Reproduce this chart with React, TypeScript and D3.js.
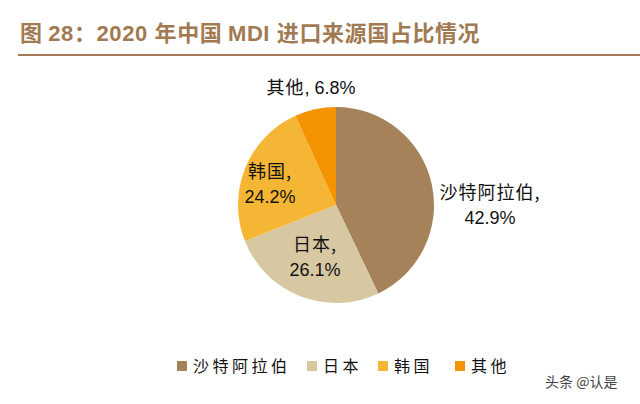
import React, { useEffect, useRef } from 'react';
import * as d3 from 'd3';

const categories = ['沙特阿拉伯', '日本', '韩国', '其他'];
const shares = [42.9, 26.1, 24.2, 6.8];
const colors = ['#A6825B', '#D7C8A1', '#F4B634', '#F39300'];

const W = 640;
const H = 404;
const CJK = '"Noto Sans CJK SC", "Liberation Sans", sans-serif';
const NUM = '"Liberation Sans", Arial, sans-serif';

const App: React.FC = () => {
  const svgRef = useRef<SVGSVGElement>(null);

  useEffect(() => {
    if (!svgRef.current) return;
    const svg = d3.select(svgRef.current);
    svg.selectAll('*').remove();

    // title
    const title = svg.append('text')
      .attr('x', 20).attr('y', 41)
      .attr('fill', '#A27A52')
      .attr('font-weight', 'bold')
      .attr('font-size', 22)
      .attr('letter-spacing', 0.6);
    title.append('tspan').attr('font-family', CJK).text('图 ');
    title.append('tspan').attr('font-family', NUM).text('28');
    title.append('tspan').attr('font-family', CJK).text('：');
    title.append('tspan').attr('font-family', NUM).text('2020 ');
    title.append('tspan').attr('font-family', CJK).text('年中国 ');
    title.append('tspan').attr('font-family', NUM).text('MDI ');
    title.append('tspan').attr('font-family', CJK).text('进口来源国占比情况');

    svg.append('line')
      .attr('x1', 18).attr('x2', W).attr('y1', 55).attr('y2', 55)
      .attr('stroke', '#A27A55').attr('stroke-width', 2);

    // pie
    const cx = 336, cy = 205, r = 98;
    const pie = d3.pie<number>().sort(null).value(d => d);
    const arcs = pie(shares);
    const arc = d3.arc<d3.PieArcDatum<number>>().innerRadius(0).outerRadius(r);
    const g = svg.append('g').attr('transform', `translate(${cx},${cy})`);
    g.selectAll('path').data(arcs).enter().append('path')
      .attr('d', arc)
      .attr('fill', (_, i) => colors[i]);

    // label anchors relative to pie centre
    const labelPos: [number, number][] = [
      [154, 0],
      [-21, 52],
      [-66, -21],
      [-25, -117],
    ];
    arcs.forEach((_, i) => {
      const [dx, dy] = labelPos[i];
      const pct = `${shares[i].toFixed(1)}%`;
      if (i === 3) {
        const t = g.append('text').attr('x', dx).attr('y', dy + 6)
          .attr('text-anchor', 'middle').attr('font-size', 18).attr('fill', '#111');
        t.append('tspan').attr('font-family', CJK).attr('letter-spacing', 1).text(categories[i]);
        t.append('tspan').attr('font-family', NUM).text(`, ${pct}`);
        return;
      }
      const t = g.append('text').attr('text-anchor', 'middle').attr('font-size', 18).attr('fill', '#111');
      t.append('tspan').attr('x', dx).attr('y', dy - 6).attr('font-family', CJK)
        .attr('letter-spacing', 1).text(categories[i] + ',');
      t.append('tspan').attr('x', dx).attr('y', dy + 19).attr('font-family', NUM).text(pct);
    });

    // legend
    const legendX = [177, 307, 378, 455];
    const ly = 366;
    const lg = svg.append('g');
    categories.forEach((c, i) => {
      lg.append('rect')
        .attr('x', legendX[i]).attr('y', ly - 5)
        .attr('width', 10).attr('height', 10)
        .attr('fill', colors[i]);
      lg.append('text')
        .attr('x', legendX[i] + 16).attr('y', ly + 6)
        .attr('font-family', CJK).attr('font-size', 16)
        .attr('letter-spacing', 3.5)
        .attr('fill', '#111')
        .text(c);
    });

    // watermark
    svg.append('text')
      .attr('x', 545).attr('y', 387)
      .attr('font-family', CJK).attr('font-size', 14)
      .attr('fill', '#444')
      .text('头条 @认是');
  }, []);

  return (
    <div style={{ position: 'fixed', left: 0, top: 0, width: W, height: H, background: '#fff' }}>
      <svg ref={svgRef} width={W} height={H} style={{ display: 'block' }} />
    </div>
  );
};

export default App;
